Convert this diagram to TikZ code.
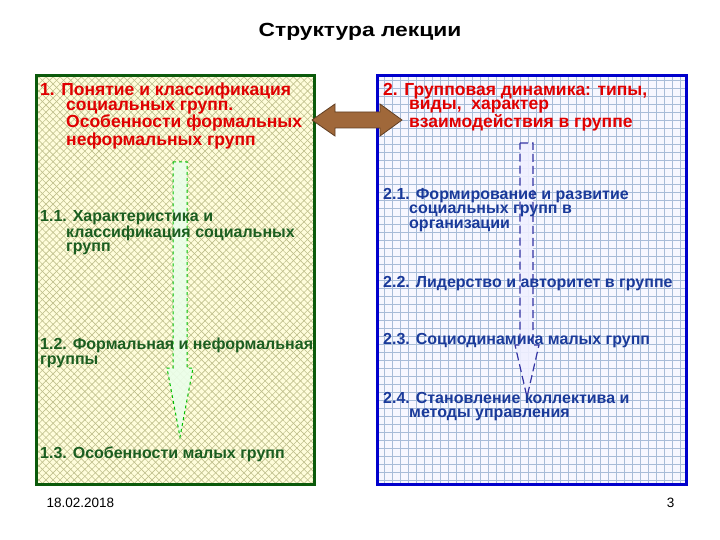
\documentclass[tikz,border=0pt]{standalone}
\usepackage{fontspec}
\setmainfont{Liberation Sans}
\newfontfamily\widefont[FakeStretch=1.2]{Liberation Sans}
\usetikzlibrary{patterns.meta}
\definecolor{tred}{HTML}{E00000}
\definecolor{tgreen}{HTML}{1B5E20}
\definecolor{tblue}{HTML}{1A3A9A}
\definecolor{lgreen}{HTML}{0B5A0B}
\definecolor{hatch}{HTML}{BFBF8C}
\definecolor{grid}{HTML}{A8BCD8}
\definecolor{brown1}{HTML}{A0683A}
\tikzset{
 item/.style={anchor=north west,align=left,inner sep=0pt,font=\fontsize{16}{14.5}\selectfont\bfseries},
 ritem/.style={item,font=\fontsize{17.5}{14.5}\selectfont\bfseries},
}
\begin{document}
\begin{tikzpicture}[x=1pt,y=-1pt]
\useasboundingbox (0,0) rectangle (720,540);
\fill[white] (0,0) rectangle (720,540);
% left box
\fill[yellow!14!white] (36,76) rectangle (314,484);
\fill[pattern={Lines[angle=45,distance=5pt,line width=0.6pt]},pattern color=hatch] (36,76) rectangle (314,484);
\fill[pattern={Lines[angle=-45,distance=5pt,line width=0.6pt]},pattern color=hatch] (36,76) rectangle (314,484);
\draw[lgreen,line width=3pt] (36,76) rectangle (314,484);
% right box
\fill[blue!3!white] (377,76) rectangle (686,484);
\draw[grid,line width=0.5pt,step=8pt] (377,76) grid (686,484);
\draw[blue!80!black,line width=3pt] (377,76) rectangle (686,484);
% green arrow
\draw[green!75!black,dashed,line width=1pt,fill=green!8!white,fill opacity=0.9]
 (173,162)--(187,162)--(187,368)--(193,368)--(180,437)--(167,368)--(173,368)--cycle;
% blue arrow
\draw[blue!55!black!80,dash pattern=on 8pt off 4pt,line width=1.2pt,fill=blue!6!white,fill opacity=0.9]
 (520,143)--(533,143)--(533,345)--(539,345)--(527,397)--(515,345)--(520,345)--cycle;
% brown double arrow
\draw[brown1!60!black,fill=brown1,line width=0.8pt]
 (312,120)--(335,104)--(335,112)--(380,112)--(380,104)--(402,120)--(380,136)--(380,128)--(335,128)--(335,136)--cycle;
% texts
\node (title) at (360,32) {\widefont\fontsize{19}{21}\selectfont\bfseries Структура лекции};
\node[ritem,text=tred] (t1) at (40,83) {1. Понятие и классификация\\\hspace*{26pt}социальных групп.\\\hspace*{26pt}Особенности формальных\\\hspace*{26pt}неформальных групп};
\node[item,text=tgreen] (t11) at (40,210) {1.1. Характеристика и\\\hspace*{26pt}классификация социальных\\\hspace*{26pt}групп};
\node[item,text=tgreen] (t12) at (40,338) {1.2. Формальная и неформальная\\группы};
\node[item,text=tgreen] (t13) at (40,447) {1.3. Особенности малых групп};
\node[ritem,text=tred] (t2) at (383,83) {2. Групповая динамика: типы,\\\hspace*{26pt}виды,\ \ характер\\\hspace*{26pt}взаимодействия в группе};
\node[item,text=tblue] (t21) at (383,188) {2.1. Формирование и развитие\\\hspace*{26pt}социальных групп в\\\hspace*{26pt}организации};
\node[item,text=tblue] (t22) at (383,276) {2.2. Лидерство и авторитет в группе};
\node[item,text=tblue] (t23) at (383,333) {2.3. Социодинамика малых групп};
\node[item,text=tblue] (t24) at (383,392) {2.4. Становление коллектива и\\\hspace*{26pt}методы управления};
\node[anchor=west,font=\fontsize{13.5}{15}\selectfont] (date) at (43,503) {18.02.2018};
\node[anchor=east,font=\fontsize{13.5}{15}\selectfont] (pg) at (678,503) {3};
\end{tikzpicture}
\end{document}
